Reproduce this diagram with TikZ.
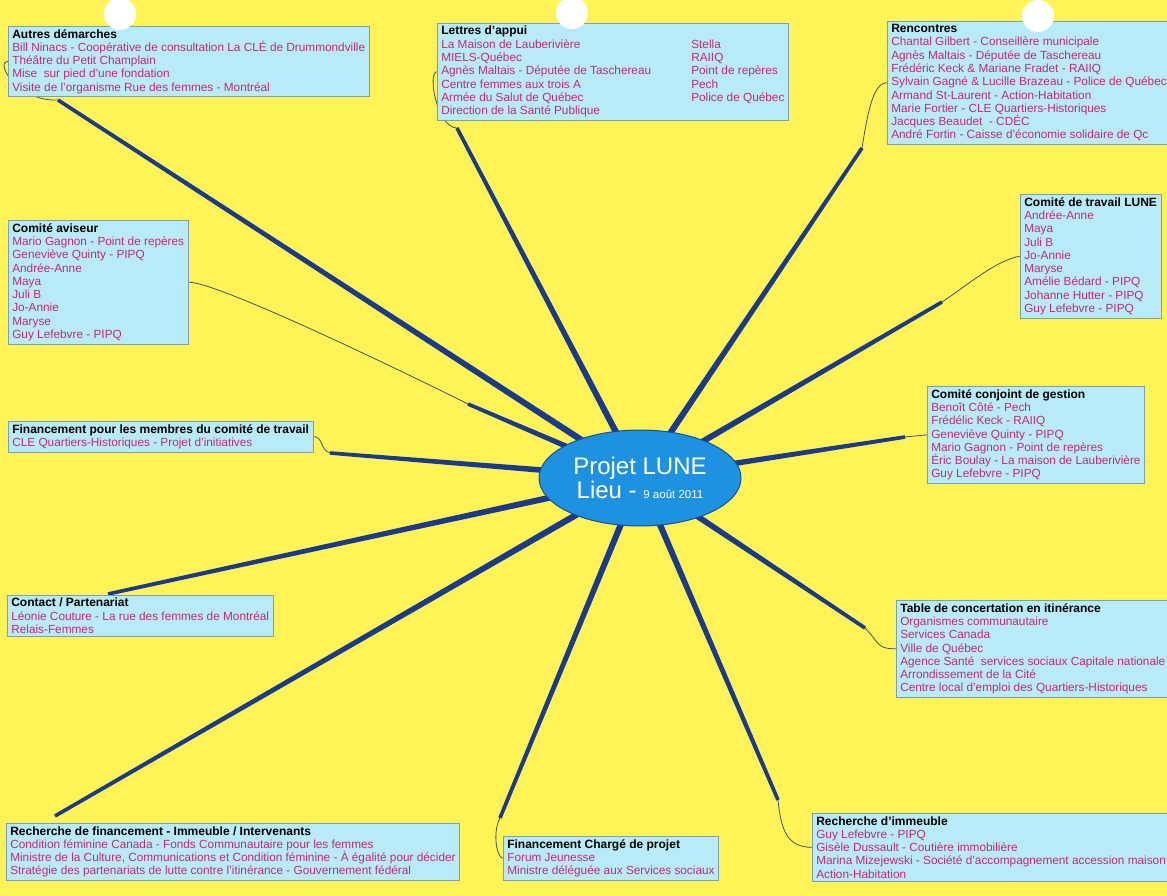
\documentclass[tikz,border=0pt]{standalone}
\usepackage{fontspec}
\setmainfont{Liberation Sans}
\usetikzlibrary{shapes.geometric,calc,backgrounds}
\definecolor{bgyellow}{RGB}{255,243,88}
\definecolor{boxfill}{RGB}{185,234,247}
\definecolor{boxline}{RGB}{120,160,190}
\definecolor{itemcol}{RGB}{198,42,112}
\definecolor{branchcol}{RGB}{28,58,138}
\definecolor{thincol}{RGB}{70,80,100}
\definecolor{ellfill}{RGB}{30,145,225}
\definecolor{elldraw}{RGB}{20,80,160}
\newcommand\ttl[1]{{\color{black}\fontsize{12}{13.3}\selectfont\bfseries #1}}
\newcommand\twocol[2]{\makebox[250pt][l]{#1}#2}
\newcommand\branchline[2]{\fill[branchcol] ($(#1)!3.3pt!90:(#2)$) -- ($(#2)!1.8pt!-90:(#1)$) -- ($(#2)!1.8pt!90:(#1)$) -- ($(#1)!3.3pt!-90:(#2)$) -- cycle;}
\begin{document}
\begin{tikzpicture}[x=1pt,y=-1pt,
  box/.style={draw=boxline, line width=0.6pt, fill=boxfill, text=itemcol, align=left,
    anchor=north west, inner xsep=4pt, inner ysep=3pt, font=\fontsize{11.8}{13.3}\selectfont},
  thinline/.style={draw=thincol, line width=0.8pt},
  hole/.style={fill=white, draw=none}]
\useasboundingbox (0,0) rectangle (1167,896);
\clip (0,0) rectangle (1167,896);

% topic boxes
\node[box] (n1) at (8,26) {\ttl{Autres démarches}\\
Bill Ninacs - Coopérative de consultation La CLÉ de Drummondville\\
Théâtre du Petit Champlain\\
Mise\ \ sur pied d'une fondation\\
Visite de l'organisme Rue des femmes - Montréal};

\node[box] (n2) at (437,23) {\ttl{Lettres d'appui}\\
\twocol{La Maison de Lauberivière}{Stella}\\
\twocol{MIELS-Québec}{RAIIQ}\\
\twocol{Agnès Maltais - Députée de Taschereau}{Point de repères}\\
\twocol{Centre femmes aux trois A}{Pech}\\
\twocol{Armée du Salut de Québec}{Police de Québec}\\
Direction de la Santé Publique};

\node[box] (n3) at (887,21) {\ttl{Rencontres}\\
Chantal Gilbert - Conseillère municipale\\
Agnès Maltais - Députée de Taschereau\\
Frédéric Keck \& Mariane Fradet - RAIIQ\\
Sylvain Gagné \& Lucille Brazeau - Police de Québec\\
Armand St-Laurent - Action-Habitation\\
Marie Fortier - CLE Quartiers-Historiques\\
Jacques Beaudet\ \ - CDÉC\\
André Fortin - Caisse d'économie solidaire de Qc};

\node[box] (n4) at (8,220) {\ttl{Comité aviseur}\\
Mario Gagnon - Point de repères\\
Geneviève Quinty - PIPQ\\
Andrée-Anne\\
Maya\\
Juli B\\
Jo-Annie\\
Maryse\\
Guy Lefebvre - PIPQ};

\node[box] (n5) at (1020,194) {\ttl{Comité de travail LUNE}\\
Andrée-Anne\\
Maya\\
Juli B\\
Jo-Annie\\
Maryse\\
Amélie Bédard - PIPQ\\
Johanne Hutter - PIPQ\\
Guy Lefebvre - PIPQ};

\node[box] (n6) at (8,421) {\ttl{Financement pour les membres du comité de travail}\\
CLE Quartiers-Historiques - Projet d'initiatives};

\node[box] (n7) at (927,386) {\ttl{Comité conjoint de gestion}\\
Benoît Côté - Pech\\
Frédélic Keck - RAIIQ\\
Geneviève Quinty - PIPQ\\
Mario Gagnon - Point de repères\\
Éric Boulay - La maison de Lauberivière\\
Guy Lefebvre - PIPQ};

\node[box] (n8) at (7,595) {\ttl{Contact / Partenariat}\\
Léonie Couture - La rue des femmes de Montréal\\
Relais-Femmes};

\node[box] (n9) at (896,600) {\ttl{Table de concertation en itinérance}\\
Organismes communautaire\\
Services Canada\\
Ville de Québec\\
Agence Santé\ \ services sociaux Capitale nationale\\
Arrondissement de la Cité\\
Centre local d'emploi des Quartiers-Historiques};

\node[box] (n10) at (6,823) {\ttl{Recherche de financement - Immeuble / Intervenants}\\
Condition féminine Canada - Fonds Communautaire pour les femmes\\
Ministre de la Culture, Communications et Condition féminine - À égalité pour décider\\
Stratégie des partenariats de lutte contre l'itinérance - Gouvernement fédéral};

\node[box] (n11) at (503,836) {\ttl{Financement Chargé de projet}\\
Forum Jeunesse\\
Ministre déléguée aux Services sociaux};

\node[box] (n12) at (812,813) {\ttl{Recherche d'immeuble}\\
Guy Lefebvre - PIPQ\\
Gisèle Dussault - Coutière immobilière\\
Marina Mizejewski - Société d'accompagnement accession maison\\
Action-Habitation};

% central topic
\node[ellipse, fill=ellfill, draw=elldraw, line width=1pt, minimum width=202pt,
  minimum height=96pt, text=white, align=center, inner sep=0pt] (c) at (640,478)
  {\fontsize{24}{29}\selectfont Projet LUNE\\
   \fontsize{24}{29}\selectfont Lieu - {\fontsize{11.5}{12}\selectfont 9 août 2011}};

% branch end points
\coordinate (e1) at (58,100);
\coordinate (e2) at (457,128);
\coordinate (e3) at (862,148);
\coordinate (e4) at (468,404);
\coordinate (e5) at (942,302);
\coordinate (e6) at (330,453);
\coordinate (e7) at (905,437);
\coordinate (e8) at (108,594);
\coordinate (e9) at (865,628);
\coordinate (e10) at (55,816);
\coordinate (e11) at (500,818);
\coordinate (e12) at (778,800);

\begin{pgfonlayer}{background}
\fill[bgyellow] (0,0) rectangle (1167,896);
\branchline{c.center}{e1}
\branchline{c.center}{e2}
\branchline{c.center}{e3}
\branchline{c.center}{e4}
\branchline{c.center}{e5}
\branchline{c.center}{e6}
\branchline{c.center}{e7}
\branchline{c.center}{e8}
\branchline{c.center}{e9}
\branchline{c.center}{e10}
\branchline{c.center}{e11}
\branchline{c.center}{e12}
\draw[thinline] (e1) .. controls +(-40,2) and +(-14,0) .. (n1.west);
\draw[thinline] (e2) .. controls +(-20,0) and +(-10,0) .. (n2.west);
\draw[thinline] (e3) .. controls +(5,-30) and +(-15,0) .. (n3.west);
\draw[thinline] (n4.east) .. controls +(30,0) and +(-60,-30) .. (e4);
\draw[thinline] (e5) .. controls +(30,-20) and +(-25,5) .. (n5.west);
\draw[thinline] (e6) .. controls +(-10,-3) and +(10,0) .. (n6.east);
\draw[thinline] (e7) -- (n7.west);
\draw[thinline] (e9) .. controls +(15,15) and +(-20,0) .. (n9.west);
\draw[thinline] (e11) .. controls +(-8,15) and +(-6,0) .. (n11.west);
\draw[thinline] (e12) .. controls +(3,30) and +(-25,0) .. (n12.west);
\end{pgfonlayer}

% punched holes
\fill[hole] (120,14) circle (16);
\fill[hole] (572,13) circle (16);
\fill[hole] (1038,16) circle (16);
\end{tikzpicture}
\end{document}
